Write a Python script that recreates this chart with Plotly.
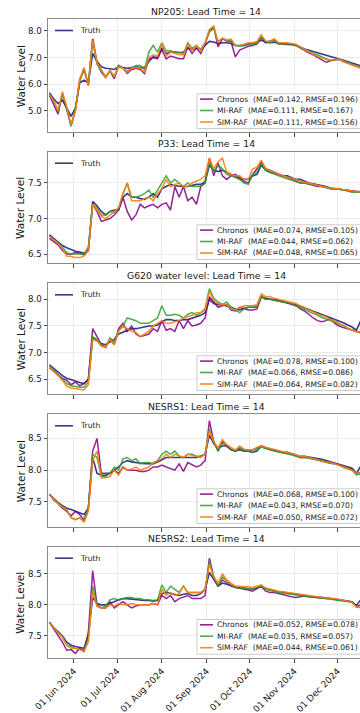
import plotly.graph_objects as go
import pandas as pd

# ---------------- data ----------------
dates = pd.date_range("2024-05-15", periods=74, freq="3D")

np205_truth = [5.68,5.45,5.27,5.40,5.10,4.80,5.10,6.05,6.15,6.05,
 7.15,6.85,6.65,6.60,6.58,6.55,6.65,6.62,6.60,6.62,
 6.65,6.62,6.62,6.85,7.02,7.00,7.35,7.15,7.20,7.20,
 7.18,7.20,7.35,7.30,7.35,7.30,7.45,7.60,7.58,7.52,
 7.55,7.55,7.52,7.45,7.45,7.45,7.50,7.52,7.55,7.65,
 7.57,7.55,7.57,7.53,7.52,7.52,7.50,7.47,7.38,7.32,
 7.27,7.22,7.17,7.12,7.07,7.03,6.98,6.94,6.90,6.84,
 6.79,6.74,6.69,6.66]
np205_chronos = [5.58,5.25,4.88,5.65,5.05,4.45,5.00,6.15,6.55,5.95,
 7.75,6.80,6.45,6.25,6.50,6.20,6.70,6.60,6.40,6.55,
 6.60,6.55,6.40,6.95,7.00,6.95,7.30,6.95,7.05,7.00,
 6.95,6.95,7.40,7.15,7.35,7.15,7.50,8.00,8.15,7.40,
 7.70,7.62,7.60,7.02,7.28,7.35,7.42,7.45,7.50,7.75,
 7.55,7.62,7.65,7.50,7.50,7.50,7.48,7.45,7.35,7.25,
 7.17,7.10,7.00,6.90,6.82,6.88,6.90,6.93,6.85,6.78,
 6.72,6.67,6.62,6.60]
np205_mi = [5.60,5.35,5.00,5.65,5.10,4.42,5.10,6.10,6.60,6.00,
 7.60,6.75,6.50,6.30,6.50,6.30,6.70,6.60,6.50,6.60,
 6.70,6.70,6.55,7.20,7.45,7.20,7.55,7.25,7.25,7.20,
 7.20,7.15,7.55,7.35,7.45,7.30,7.55,7.95,8.10,7.60,
 7.72,7.65,7.62,7.45,7.42,7.45,7.50,7.50,7.52,7.80,
 7.60,7.55,7.65,7.50,7.50,7.50,7.50,7.45,7.37,7.30,
 7.22,7.15,7.10,7.02,6.95,6.90,6.92,6.93,6.87,6.80,
 6.74,6.68,6.62,6.60]
np205_sim = [5.62,5.38,5.02,5.72,5.15,4.48,5.00,6.20,6.62,5.95,
 7.65,6.80,6.55,6.25,6.50,6.30,6.65,6.60,6.45,6.60,
 6.62,6.60,6.45,7.00,7.10,7.05,7.50,7.05,7.20,7.15,
 7.10,7.10,7.50,7.25,7.45,7.25,7.55,8.05,8.18,7.55,
 7.72,7.65,7.70,7.45,7.45,7.50,7.55,7.55,7.60,7.85,
 7.62,7.60,7.70,7.55,7.55,7.55,7.52,7.50,7.40,7.30,
 7.20,7.12,7.05,6.98,6.92,6.90,6.92,6.94,6.85,6.78,
 6.72,6.67,6.60,6.58]

p33_truth = [6.77,6.72,6.67,6.62,6.59,6.56,6.54,6.53,6.51,6.55,
 7.24,7.18,7.10,7.05,7.10,7.12,7.12,7.30,7.35,7.30,
 7.30,7.28,7.27,7.30,7.35,7.30,7.42,7.45,7.48,7.46,
 7.45,7.45,7.45,7.47,7.48,7.48,7.52,7.75,7.68,7.66,
 7.68,7.65,7.62,7.60,7.56,7.55,7.55,7.60,7.62,7.75,
 7.68,7.65,7.63,7.62,7.60,7.60,7.57,7.55,7.55,7.52,
 7.50,7.49,7.48,7.47,7.45,7.43,7.42,7.42,7.41,7.40,
 7.39,7.38,7.38,7.37]
p33_chronos = [6.72,6.68,6.63,6.55,6.50,6.50,6.52,6.51,6.49,6.55,
 7.20,7.10,6.96,6.98,7.00,7.05,7.12,7.30,7.10,6.98,
 7.05,7.20,7.15,7.18,7.20,7.15,7.20,7.22,7.12,7.45,
 7.30,7.45,7.25,7.30,7.20,7.45,7.50,7.85,7.60,7.78,
 7.60,7.55,7.60,7.62,7.58,7.52,7.50,7.62,7.70,7.80,
 7.70,7.68,7.65,7.62,7.60,7.58,7.55,7.53,7.50,7.50,
 7.48,7.47,7.45,7.45,7.43,7.42,7.42,7.41,7.40,7.39,
 7.38,7.37,7.37,7.37]
p33_mi = [6.75,6.70,6.65,6.60,6.52,6.50,6.50,6.50,6.50,6.60,
 7.20,7.15,7.05,7.05,7.10,7.08,7.15,7.35,7.50,7.30,
 7.30,7.32,7.35,7.40,7.30,7.40,7.50,7.60,7.50,7.55,
 7.50,7.45,7.50,7.45,7.45,7.45,7.50,7.80,7.65,7.75,
 7.70,7.62,7.60,7.58,7.55,7.50,7.48,7.62,7.65,7.78,
 7.68,7.65,7.62,7.60,7.58,7.56,7.55,7.52,7.50,7.50,
 7.49,7.48,7.46,7.45,7.44,7.42,7.42,7.41,7.40,7.38,
 7.37,7.37,7.37,7.37]
p33_sim = [6.75,6.70,6.65,6.58,6.47,6.47,6.45,6.45,6.47,6.55,
 7.20,7.12,7.03,7.00,7.05,7.10,7.15,7.35,7.50,7.25,
 7.25,7.25,7.28,7.30,7.25,7.35,7.42,7.55,7.45,7.48,
 7.50,7.45,7.45,7.50,7.52,7.55,7.60,7.85,7.70,7.80,
 7.85,7.65,7.62,7.60,7.60,7.55,7.55,7.70,7.72,7.82,
 7.70,7.68,7.65,7.62,7.60,7.58,7.57,7.55,7.52,7.51,
 7.50,7.48,7.46,7.45,7.44,7.43,7.42,7.42,7.41,7.39,
 7.38,7.37,7.37,7.37]

g620_truth = [6.77,6.70,6.63,6.57,6.52,6.50,6.47,6.44,6.42,6.50,
 7.28,7.22,7.17,7.15,7.20,7.25,7.35,7.38,7.42,7.45,
 7.45,7.47,7.48,7.50,7.50,7.52,7.58,7.62,7.62,7.60,
 7.60,7.62,7.62,7.65,7.68,7.70,7.75,8.00,7.92,7.90,
 7.90,7.88,7.85,7.82,7.80,7.83,7.85,7.85,7.86,8.05,
 8.00,8.00,8.00,7.98,7.96,7.95,7.93,7.90,7.87,7.84,
 7.81,7.78,7.75,7.72,7.69,7.66,7.63,7.60,7.56,7.52,
 7.48,7.42,7.60,7.60]
g620_chronos = [6.72,6.65,6.58,6.52,6.48,6.40,6.45,6.38,6.42,6.50,
 7.45,7.30,7.15,7.10,7.25,7.15,7.45,7.55,7.40,7.50,
 7.35,7.30,7.32,7.35,7.45,7.40,7.60,7.42,7.45,7.40,
 7.60,7.45,7.60,7.50,7.52,7.55,7.65,8.05,7.95,7.85,
 7.88,7.90,7.80,7.78,7.85,7.82,7.80,7.80,7.82,8.05,
 8.02,8.00,7.98,7.97,7.95,7.93,7.90,7.88,7.82,7.78,
 7.72,7.65,7.60,7.58,7.60,7.65,7.55,7.50,7.47,7.45,
 7.42,7.40,7.38,7.38]
g620_mi = [6.75,6.68,6.58,6.50,6.42,6.38,6.36,6.35,6.35,6.45,
 7.30,7.25,7.15,7.10,7.28,7.20,7.42,7.50,7.65,7.62,
 7.60,7.55,7.55,7.55,7.60,7.65,7.88,7.70,7.70,7.72,
 7.70,7.65,7.72,7.75,7.70,7.75,7.82,8.20,8.02,7.95,
 7.90,7.95,7.85,7.80,7.75,7.82,7.85,7.85,7.86,8.05,
 8.00,8.00,7.98,7.97,7.95,7.94,7.92,7.88,7.85,7.81,
 7.77,7.74,7.70,7.66,7.63,7.60,7.58,7.55,7.51,7.46,
 7.42,7.39,7.37,7.37]
g620_sim = [6.72,6.65,6.57,6.48,6.37,6.34,6.33,6.32,6.30,6.40,
 7.25,7.22,7.12,7.10,7.25,7.15,7.40,7.50,7.45,7.40,
 7.38,7.30,7.35,7.40,7.50,7.55,7.60,7.55,7.55,7.58,
 7.60,7.65,7.68,7.70,7.75,7.75,7.80,8.15,7.98,7.92,
 7.90,7.90,7.82,7.80,7.85,7.88,7.88,7.88,7.90,8.10,
 8.05,8.05,8.02,8.00,7.98,7.97,7.95,7.92,7.88,7.85,
 7.80,7.77,7.72,7.70,7.67,7.62,7.60,7.55,7.50,7.46,
 7.42,7.39,7.37,7.37]

nesrs1_truth = [7.62,7.55,7.49,7.44,7.40,7.38,7.35,7.32,7.30,7.40,
 8.20,7.95,7.92,7.92,7.95,8.00,8.05,8.12,8.15,8.13,
 8.12,8.10,8.10,8.10,8.10,8.13,8.17,8.20,8.20,8.20,
 8.20,8.20,8.20,8.20,8.20,8.22,8.25,8.55,8.42,8.35,
 8.38,8.38,8.32,8.30,8.32,8.30,8.30,8.28,8.30,8.38,
 8.35,8.33,8.32,8.30,8.28,8.28,8.26,8.24,8.22,8.22,
 8.21,8.20,8.18,8.17,8.15,8.13,8.12,8.10,8.08,8.05,
 8.03,7.95,8.06,8.05]
nesrs1_chronos = [7.62,7.53,7.47,7.40,7.35,7.28,7.35,7.30,7.22,7.40,
 8.30,8.50,7.95,7.95,7.95,8.00,7.95,8.05,8.00,8.00,
 8.00,7.98,7.98,8.00,8.05,8.05,8.08,8.05,8.02,8.00,
 8.10,7.98,8.12,8.08,8.05,8.08,8.15,8.78,8.45,8.30,
 8.45,8.38,8.33,8.30,8.35,8.32,8.30,8.32,8.35,8.38,
 8.35,8.32,8.30,8.29,8.28,8.27,8.25,8.23,8.20,8.20,
 8.20,8.18,8.16,8.15,8.13,8.11,8.10,8.08,8.05,8.03,
 8.02,7.93,7.97,7.97]
nesrs1_mi = [7.62,7.55,7.48,7.43,7.38,7.25,7.22,7.25,7.20,7.40,
 8.25,8.20,7.90,7.90,7.95,8.05,8.00,8.18,8.20,8.15,
 8.18,8.10,8.12,8.12,8.10,8.15,8.25,8.30,8.25,8.30,
 8.22,8.20,8.25,8.25,8.22,8.22,8.25,8.65,8.45,8.30,
 8.42,8.40,8.33,8.30,8.35,8.30,8.30,8.28,8.33,8.36,
 8.34,8.32,8.30,8.28,8.27,8.26,8.24,8.22,8.20,8.20,
 8.19,8.18,8.16,8.14,8.12,8.11,8.10,8.08,8.04,8.02,
 8.00,7.93,7.93,7.93]
nesrs1_sim = [7.62,7.54,7.47,7.42,7.37,7.25,7.22,7.25,7.18,7.35,
 8.15,8.30,7.88,7.88,7.90,8.00,7.92,8.05,8.00,8.02,
 8.05,8.00,8.02,8.05,8.12,8.15,8.18,8.25,8.20,8.25,
 8.22,8.20,8.25,8.23,8.22,8.20,8.25,8.62,8.45,8.35,
 8.48,8.40,8.36,8.32,8.38,8.33,8.32,8.32,8.36,8.38,
 8.36,8.34,8.32,8.30,8.29,8.28,8.26,8.24,8.22,8.22,
 8.20,8.18,8.16,8.15,8.13,8.12,8.10,8.08,8.05,8.03,
 8.00,7.95,7.95,7.95]

nesrs2_truth = [7.72,7.63,7.57,7.50,7.40,7.35,7.33,7.31,7.30,7.52,
 8.12,8.02,8.00,8.00,8.02,8.05,8.08,8.10,8.10,8.09,
 8.08,8.08,8.07,8.07,8.06,8.07,8.18,8.20,8.18,8.17,
 8.15,8.17,8.18,8.15,8.15,8.18,8.25,8.52,8.40,8.30,
 8.35,8.33,8.30,8.28,8.27,8.27,8.26,8.25,8.27,8.30,
 8.26,8.24,8.22,8.21,8.20,8.19,8.17,8.16,8.15,8.15,
 8.14,8.13,8.12,8.12,8.11,8.10,8.09,8.08,8.08,8.06,
 8.05,7.99,8.08,8.05]
nesrs2_chronos = [7.72,7.62,7.50,7.40,7.27,7.28,7.22,7.30,7.25,7.55,
 8.55,8.00,7.95,7.95,8.05,7.95,8.00,8.05,8.00,7.95,
 7.98,8.00,8.00,8.00,8.02,8.00,8.15,8.10,8.15,8.05,
 8.10,8.12,8.15,8.10,8.10,8.10,8.15,8.75,8.45,8.30,
 8.40,8.35,8.30,8.28,8.27,8.25,8.24,8.22,8.26,8.30,
 8.22,8.20,8.20,8.18,8.16,8.15,8.13,8.12,8.13,8.14,
 8.13,8.12,8.11,8.10,8.10,8.10,8.09,8.08,8.08,8.06,
 8.04,7.97,8.00,8.00]
nesrs2_mi = [7.72,7.63,7.56,7.48,7.35,7.32,7.30,7.28,7.28,7.45,
 8.30,8.00,7.95,7.98,8.08,8.10,8.08,8.10,8.12,8.12,
 8.10,8.10,8.08,8.08,8.07,8.08,8.32,8.20,8.30,8.25,
 8.20,8.30,8.20,8.20,8.20,8.20,8.25,8.70,8.45,8.30,
 8.45,8.38,8.32,8.28,8.27,8.27,8.26,8.25,8.28,8.30,
 8.25,8.23,8.22,8.20,8.19,8.18,8.16,8.15,8.14,8.14,
 8.13,8.13,8.12,8.11,8.10,8.10,8.09,8.08,8.07,8.05,
 8.04,7.96,7.95,7.95]
nesrs2_sim = [7.72,7.63,7.55,7.48,7.35,7.30,7.30,7.28,7.25,7.40,
 8.22,7.97,7.95,7.95,8.00,7.98,8.02,8.00,8.00,8.02,
 8.00,8.00,8.00,8.00,8.02,8.00,8.25,8.15,8.20,8.15,
 8.18,8.30,8.20,8.20,8.20,8.20,8.25,8.65,8.45,8.35,
 8.50,8.40,8.35,8.30,8.30,8.30,8.29,8.28,8.30,8.32,
 8.27,8.25,8.24,8.22,8.21,8.20,8.18,8.17,8.16,8.16,
 8.15,8.14,8.13,8.12,8.11,8.10,8.10,8.09,8.08,8.06,
 8.04,7.97,7.96,7.96]

panel_titles = ["NP205: Lead Time = 14", "P33: Lead Time = 14",
                "G620 water level: Lead Time = 14", "NESRS1: Lead Time = 14",
                "NESRS2: Lead Time = 14"]
model_names = ["Chronos", "MI-RAF", "SIM-RAF"]
np205_mae, np205_rmse = [0.142, 0.111, 0.111], [0.196, 0.167, 0.156]
p33_mae, p33_rmse = [0.074, 0.044, 0.048], [0.105, 0.062, 0.065]
g620_mae, g620_rmse = [0.078, 0.066, 0.064], [0.100, 0.086, 0.082]
nesrs1_mae, nesrs1_rmse = [0.068, 0.043, 0.050], [0.100, 0.070, 0.072]
nesrs2_mae, nesrs2_rmse = [0.052, 0.035, 0.044], [0.078, 0.057, 0.061]

tick_dates = ["2024-06-01", "2024-07-01", "2024-08-01", "2024-09-01",
              "2024-10-01", "2024-11-01", "2024-12-01"]
tick_labels = ["01 Jun 2024", "01 Jul 2024", "01 Aug 2024", "01 Sep 2024",
               "01 Oct 2024", "01 Nov 2024", "01 Dec 2024"]

panels = [
    (np205_truth, [np205_chronos, np205_mi, np205_sim], np205_mae, np205_rmse),
    (p33_truth, [p33_chronos, p33_mi, p33_sim], p33_mae, p33_rmse),
    (g620_truth, [g620_chronos, g620_mi, g620_sim], g620_mae, g620_rmse),
    (nesrs1_truth, [nesrs1_chronos, nesrs1_mi, nesrs1_sim], nesrs1_mae, nesrs1_rmse),
    (nesrs2_truth, [nesrs2_chronos, nesrs2_mi, nesrs2_sim], nesrs2_mae, nesrs2_rmse),
]

# ---------------- layout / style ----------------
W, H = 360, 713
ML, MR, MT, MB = 48, 0, 19, 55
PW, PH = W - ML - MR, H - MT - MB
FONT = "DejaVu Sans"
TXT = "#1a1a1a"
truth_color = "rgba(20,24,120,0.85)"
model_colors = ["rgba(128,0,128,0.85)", "rgba(44,160,44,0.85)", "rgba(255,127,14,0.9)"]

panel_px = [(19, 132.3), (151.7, 263.3), (283.3, 394.3), (414.3, 527.3), (546.7, 658.0)]
title_px = [11.5, 143.5, 275, 406.5, 538.5]
y_ranges = [[4.20, 8.44], [6.37, 7.94], [6.22, 8.30], [7.10, 8.88], [7.145, 8.935]]
y_dticks = [1.0, 0.5, 0.5, 0.5, 0.5]
x_range = ["2024-05-14 00:00", "2024-12-16 12:00"]


def fx(xpx):
    return (xpx - ML) / PW


def fy(ypx):
    return 1 - (ypx - MT) / PH


def clamp(v):
    return min(1.0, max(0.0, v))


fig = go.Figure()
shapes, annotations = [], []
layout_axes = {}

for i, (truth, preds, mae, rmse) in enumerate(panels):
    n = i + 1
    xa = "x" if n == 1 else f"x{n}"
    ya = "y" if n == 1 else f"y{n}"
    top, bot = panel_px[i]

    fig.add_trace(go.Scatter(x=dates, y=truth, mode="lines", name="Truth",
                             line=dict(color=truth_color, width=1.6),
                             xaxis=xa, yaxis=ya, showlegend=False))
    for j, p in enumerate(preds):
        fig.add_trace(go.Scatter(x=dates, y=p, mode="lines", name=model_names[j],
                                 line=dict(color=model_colors[j], width=1.5),
                                 xaxis=xa, yaxis=ya, showlegend=False))

    xkey = "xaxis" if n == 1 else f"xaxis{n}"
    ykey = "yaxis" if n == 1 else f"yaxis{n}"
    layout_axes[xkey] = dict(
        domain=[0, 1], anchor=ya, range=x_range, type="date",
        tickvals=tick_dates, ticktext=tick_labels, showticklabels=(n == 5),
        tickangle=-45, tickfont=dict(family=FONT, size=9, color=TXT),
        ticks="outside", ticklen=3.5, tickcolor="#444", tickwidth=0.8,
        showgrid=True, gridcolor="#ebebeb", gridwidth=0.8,
        showline=True, linecolor="#8a8a8a", linewidth=1, mirror=True,
        zeroline=False,
    )
    if n > 1:
        layout_axes[xkey]["matches"] = "x"
    layout_axes[ykey] = dict(
        domain=[clamp(fy(bot)), clamp(fy(top))], anchor=xa, range=y_ranges[i],
        dtick=y_dticks[i], tick0=0, tickformat=".1f",
        tickfont=dict(family=FONT, size=8.7, color=TXT),
        ticks="outside", ticklen=3.5, tickcolor="#444", tickwidth=0.8,
        showgrid=True, gridcolor="#ebebeb", gridwidth=0.8,
        showline=True, linecolor="#8a8a8a", linewidth=1, mirror=True,
        zeroline=False,
    )

    # title
    annotations.append(dict(text=panel_titles[i], xref="paper", yref="paper",
                            x=fx(206), y=fy(title_px[i]), xanchor="center", yanchor="middle",
                            showarrow=False, font=dict(family=FONT, size=9.3, color=TXT)))
    # y label
    annotations.append(dict(text="Water Level", xref="paper", yref="paper",
                            x=fx(20.5), y=fy((top + bot) / 2), xanchor="center", yanchor="middle",
                            textangle=-90, showarrow=False,
                            font=dict(family=FONT, size=10.5, color=TXT)))

    # Truth legend (upper left)
    ly = top + 11.5
    shapes.append(dict(type="rect", xref="paper", yref="paper",
                       x0=fx(51), x1=fx(100), y0=fy(top + 3), y1=fy(top + 20),
                       fillcolor="rgba(255,255,255,0.8)", line=dict(width=0)))
    shapes.append(dict(type="line", xref="paper", yref="paper",
                       x0=fx(55), x1=fx(73), y0=fy(ly), y1=fy(ly),
                       line=dict(color=truth_color, width=1.6)))
    annotations.append(dict(text="Truth", xref="paper", yref="paper",
                            x=fx(78), y=fy(ly), xanchor="left", yanchor="middle",
                            showarrow=False, font=dict(family=FONT, size=7.7, color=TXT)))

    # Model legend (lower right)
    shapes.append(dict(type="rect", xref="paper", yref="paper",
                       x0=fx(197), x1=fx(362), y0=fy(bot - 3.8), y1=fy(bot - 38.5),
                       fillcolor="rgba(255,255,255,0.82)",
                       line=dict(color="#cccccc", width=1)))
    row_off = [33.2, 21.8, 10.3]
    for j in range(3):
        ry = bot - row_off[j]
        shapes.append(dict(type="line", xref="paper", yref="paper",
                           x0=fx(200), x1=fx(213), y0=fy(ry), y1=fy(ry),
                           line=dict(color=model_colors[j], width=1.6)))
        annotations.append(dict(
            text=f"{model_names[j]}  (MAE={mae[j]:.3f}, RMSE={rmse[j]:.3f})",
            xref="paper", yref="paper", x=fx(215), y=fy(ry),
            xanchor="left", yanchor="middle", showarrow=False,
            font=dict(family=FONT, size=7.6, color=TXT)))

fig.update_layout(
    width=W, height=H,
    margin=dict(l=ML, r=MR, t=MT, b=MB),
    paper_bgcolor="white", plot_bgcolor="white",
    showlegend=False,
    shapes=shapes, annotations=annotations,
    font=dict(family=FONT, color=TXT),
    **layout_axes,
)

fig.write_html(
    "out.html",
    config={"displayModeBar": False},
    post_script="document.body.style.margin='0';document.body.style.padding='0';"
                "document.body.style.overflow='hidden';"
                "document.documentElement.style.overflow='hidden';",
)
